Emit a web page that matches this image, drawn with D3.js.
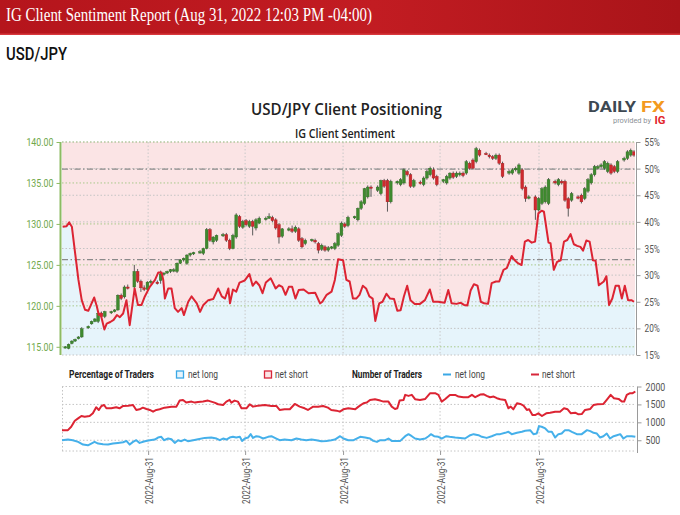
<!DOCTYPE html>
<html><head><meta charset="utf-8">
<script src="https://cdn.jsdelivr.net/npm/d3@7/dist/d3.min.js"></script>
<style>body{margin:0;background:#fff}svg{display:block}</style>
</head><body>
<svg id="c" width="680" height="515"></svg>
<script>
// ---------------- DATA ----------------
const headerTitle = "IG Client Sentiment Report (Aug 31, 2022 12:03 PM -04:00)";
const pairName = "USD/JPY";
const chartTitle = "USD/JPY Client Positioning";
const chartSubtitle = "IG Client Sentiment";
const priceTicks = [115, 120, 125, 130, 135, 140];
const pctTicks = [15, 20, 25, 30, 35, 40, 45, 50, 55];
const countTicks = [500, 1000, 1500, 2000];
const refPct = [50, 33];
const xTickSlots = [26.2, 55.7, 85.5, 115, 145.1];
const xTickLabels = ["2022-Aug-31", "2022-Aug-31", "2022-Aug-31", "2022-Aug-31", "2022-Aug-31"];

const candleSlot = [1,2,3,4,5,6,8,9,10,11,12,13,15,16,17,18,19,20,22,23,24,25,26,27,29,30,31,32,33,34,35,36,37,38,39,40,42,43,44,45,46,47,49,50,51,52,53,54,55,56,57,58,59,60,62,63,64,65,66,67,69,70,71,72,73,74,76,77,78,79,80,81,82,83,84,85,86,87,89,90,91,92,93,94,96,97,98,99,100,102,103,104,105,106,107,109,110,111,112,113,114,116,117,118,119,120,121,122,123,124,125,126,127,129,130,131,132,133,134,136,137,138,139,140,141,142,144,145,146,147,148,150,151,152,153,154,155,157,158,159,160,161,162,163,164,165,166,167,168,169,171,172,173,174];
const candleOpen = [114.9,114.8,115.4,115.7,116.0,116.2,117.3,117.8,118.1,118.1,119.1,118.7,119.2,119.3,119.5,121.3,121.1,122.3,122.3,124.2,123.0,122.2,122.0,122.9,122.9,123.1,123.9,124.0,124.2,124.3,124.2,125.2,125.6,125.2,126.2,126.4,126.5,126.4,127.0,129.3,127.8,128.0,128.6,128.7,128.0,127.0,128.4,130.9,129.6,130.4,129.7,130.3,129.5,130.1,130.6,130.7,130.8,130.5,129.9,128.5,129.3,129.4,129.1,129.4,128.2,127.6,128.0,128.0,127.6,126.9,127.2,126.8,127.1,127.0,127.4,128.6,130.0,129.8,130.8,130.5,131.9,132.5,133.3,134.5,134.1,133.7,135.3,135.3,132.7,135.0,134.8,135.0,136.4,136.0,134.6,135.1,134.8,135.6,136.0,136.6,135.8,135.2,135.0,135.6,136.2,135.8,136.0,136.2,136.2,137.4,137.8,137.6,139.0,138.6,138.4,138.2,138.0,138.4,137.4,136.2,136.2,136.6,136.2,136.6,134.5,133.2,133.3,131.7,132.5,132.7,132.5,135.2,134.8,135.2,135.2,133.1,132.9,133.3,133.5,133.1,134.0,135.0,136.0,136.8,137.0,136.8,136.4,137.2,137.0,136.4,137.8,138.0,138.4,138.8];
const candleHigh = [115.1,115.4,115.8,116.0,116.3,117.4,117.6,118.2,118.5,119.2,119.3,119.4,119.4,119.6,121.4,121.5,122.5,122.6,125.0,124.5,123.2,122.5,123.0,123.2,123.1,124.3,124.1,124.3,124.5,124.6,125.3,125.7,125.9,126.3,126.5,126.6,126.8,127.1,129.5,129.5,128.5,128.7,128.9,128.9,128.2,128.8,131.3,131.1,130.5,130.6,130.5,130.5,130.7,130.9,130.9,131.3,131.0,130.7,130.1,129.5,129.6,129.8,129.8,129.6,128.4,128.2,128.2,128.2,127.8,127.6,127.4,127.3,127.3,127.8,129.0,130.3,130.2,131.0,131.0,132.0,132.9,134.4,134.7,134.7,134.7,135.4,135.5,135.5,135.4,135.3,135.6,136.8,136.6,136.2,135.5,135.3,135.8,136.6,137.0,136.9,136.0,135.5,136.0,136.3,136.4,136.4,136.4,136.4,137.8,137.6,138.0,139.4,139.2,138.8,138.6,138.4,138.6,138.6,137.6,136.6,136.8,137.0,137.4,136.8,134.7,133.5,133.5,133.3,134.5,134.7,135.6,135.4,135.6,135.4,135.4,133.3,133.9,133.5,133.7,134.5,135.6,136.2,137.2,137.2,137.4,137.8,137.6,137.4,137.2,137.8,138.2,139.0,139.2,139.0];
const candleLow = [114.8,114.7,115.3,115.6,115.9,116.1,117.2,117.7,118.0,117.9,118.5,118.5,119.0,119.2,119.4,120.7,120.9,122.0,122.0,122.8,121.7,121.8,121.8,122.7,122.6,122.7,123.7,123.9,124.0,124.1,124.0,125.1,125.4,125.0,126.0,126.2,126.4,126.2,126.9,127.8,127.5,127.8,128.4,127.8,126.8,126.9,128.2,129.5,129.4,129.7,129.5,128.6,129.2,130.0,130.4,130.6,130.2,129.3,127.6,128.3,129.1,128.9,128.9,127.8,127.0,127.4,127.8,127.6,126.4,126.7,126.6,126.6,126.9,126.8,127.2,128.4,129.5,129.6,130.6,130.3,131.7,132.3,133.1,133.3,133.9,133.5,134.4,131.5,132.5,134.8,134.6,134.8,135.8,134.4,134.4,134.8,134.6,135.4,135.8,135.4,134.6,135.0,134.8,135.4,135.5,135.6,135.8,135.7,136.0,136.6,136.6,137.4,138.2,138.4,138.0,137.8,137.8,137.2,135.6,136.0,136.0,136.4,136.0,134.1,132.7,133.0,130.5,131.5,132.3,132.5,132.3,134.8,134.6,134.8,132.7,130.9,132.7,133.0,132.5,132.9,133.8,134.8,135.8,136.6,136.8,136.6,136.2,136.0,136.2,136.2,137.6,137.8,138.2,138.2];
const candleClose = [115.0,115.3,115.7,115.9,116.2,117.2,117.5,118.1,118.4,119.1,118.7,119.3,119.3,119.5,121.3,120.9,122.3,122.2,124.2,123.0,122.2,122.0,122.9,123.0,122.7,123.9,124.0,124.2,124.4,124.4,125.2,125.6,125.8,126.2,126.4,126.5,126.6,127.0,129.3,128.0,128.4,128.6,128.7,128.0,127.0,128.6,131.1,129.7,130.3,129.9,130.3,129.7,130.5,130.7,130.7,130.9,130.4,129.5,128.4,129.4,129.4,129.1,129.6,128.0,127.2,128.0,128.1,127.8,126.8,127.4,126.8,127.1,127.2,127.6,128.8,130.1,129.7,130.8,130.9,131.9,132.7,134.3,134.5,134.4,134.5,135.3,134.6,132.7,135.2,135.2,135.4,136.6,136.0,134.6,135.3,135.0,135.6,136.4,136.8,135.6,134.8,135.4,135.8,136.2,135.7,136.2,136.2,135.9,137.6,136.8,136.8,139.2,138.4,138.5,138.2,138.0,138.4,137.4,135.8,136.4,136.6,136.8,137.2,134.3,133.1,133.3,131.7,133.1,134.3,134.5,135.4,135.0,135.4,135.0,132.9,131.9,133.7,133.2,132.7,134.3,135.4,136.0,137.0,137.0,137.2,137.6,137.4,136.2,136.4,137.6,138.0,138.8,139.0,138.4];

const sentSlot = [0.2,1.4,2.2,3,4,5,6,7,8,9,9.8,10.6,11.2,11.7,12.9,13.6,14.7,15.7,16.7,17.6,18.6,19.6,20.6,22.1,23.1,24.2,25.2,26.7,28.3,29.3,30.3,30.8,31.3,32.3,33.3,34.3,35.3,36.4,37.1,38.4,39.4,41,42,43,44.5,46,47.5,48.6,49.6,50.6,51.1,52,53,54,55.6,57,58,59,60,61,62,63.5,65,66,67,68,69,70,71,72,73.5,75,77,78.5,79.2,80.5,82,83,84,85.5,86.5,87.5,88.5,89.5,90.5,91.5,92.5,93.5,94.5,95.3,96.5,97.5,98.7,99.8,101,102,103,104,105,106,107.3,108.9,110.4,111.9,112.9,114.4,116.4,117.5,118.5,120,121.3,122.3,123.3,124.3,125.3,126.4,127.4,128.4,129.6,130.7,132,133,134.3,135.3,136.8,137.7,138.8,139.8,140.8,141.8,142.9,143.9,144.9,145.9,146.6,148,148.6,149.6,150.6,151.7,152.7,153.7,154.7,155.7,156.7,157.7,158.5,159.5,160.5,161.5,162.3,163.3,164.8,165.6,166.4,167.4,168.4,169.4,170.3,171.2,172.2,173.2,174];
const sentPctLong = [39.1,39.2,39.9,39.1,34.1,29.1,25.3,23.5,23.3,24.7,25.8,24.1,22.5,22.8,19.8,20.9,21.2,21.6,22.5,22.1,22.8,25.3,20.6,27.5,24.4,24.4,26.0,27.8,29.1,30.5,30.5,29.1,25.6,27.5,27.5,23.8,23.1,23.8,22.5,25.0,26.0,24.7,23.1,24.4,25.3,25.5,27.5,26.0,25.6,27.5,24.7,27.3,26.9,28.6,29.0,30.2,28.0,28.8,28.1,26.6,28.6,29.4,27.5,28.1,27.8,26.3,27.8,27.8,25.6,27.2,27.3,26.6,26.7,24.7,25.0,26.3,26.9,29.1,33.0,32.8,29.1,28.8,25.6,25.6,26.3,28.0,27.5,26.0,25.6,21.4,24.7,25.0,26.5,25.6,25.5,23.3,23.4,26.0,28.0,25.3,24.6,24.6,25.3,27.3,25.0,25.0,24.8,27.2,24.7,24.6,24.8,24.4,24.3,27.1,28.3,28.0,25.0,24.7,24.6,28.5,28.8,28.8,31.0,31.3,33.6,32.8,32.2,31.9,36.3,36.6,36.1,36.3,41.6,42.1,41.9,36.1,36.0,31.0,32.5,32.8,36.3,36.6,37.7,35.8,35.5,35.3,34.6,36.5,36.3,32.8,32.7,28.1,28.8,29.8,24.4,25.6,28.0,28.0,25.6,28.0,25.3,25.3,25.0];

const shortSlot = [0,1.8,2.8,3.9,4.9,5.9,6.9,8.4,9.4,10.4,11.2,12,12.8,13.5,15,16.5,17.5,18.6,20.1,21.6,22.6,23.6,24.6,25.7,26.7,27.7,28.7,29.7,31.2,33.3,34.8,35.8,36.8,37.8,39.4,40.4,41.4,42.9,44.4,45.4,46.4,47.5,49,50,51,51.5,52.5,53.5,54.6,56.1,57.1,58.1,59.6,61.7,63.7,65.2,66.2,67.7,69.3,70.8,72.3,73.8,74.8,76.4,77.9,79.4,80.9,81.9,83.5,84.5,85.6,87.1,89.2,90.2,91.7,92.7,93.7,95.2,96.8,97.8,99.3,100.3,101.3,102,102.7,103.9,104.4,105.4,106.4,107.4,108.9,110.5,112,113.5,114.5,115.5,116.5,118,119.6,120.6,122.1,123.6,124.7,125.7,127.2,128.2,129.2,130.2,131.3,132.3,133.3,134.8,135.8,136.5,137.3,138.4,139.4,140.4,141.4,142.1,143.1,143.9,144.9,146,147.3,148.5,150,151.5,152.7,153.8,154.8,156.1,157.1,158.1,159.1,160.7,161.7,162.9,164.7,165.7,166.9,167.9,169.3,170.3,171,171.8,172.8,173.6,174.4];
const shortCount = [782,782,876,1045,1110,1176,1157,1176,1251,1420,1345,1457,1485,1392,1392,1420,1392,1457,1466,1485,1345,1364,1410,1373,1345,1298,1345,1364,1410,1438,1438,1607,1626,1551,1579,1551,1570,1579,1607,1579,1551,1504,1485,1579,1626,1551,1607,1579,1392,1392,1504,1438,1466,1485,1457,1457,1345,1364,1364,1513,1438,1392,1345,1438,1438,1457,1410,1345,1326,1298,1363,1392,1363,1438,1532,1551,1626,1645,1607,1579,1579,1438,1373,1392,1607,1626,1766,1738,1766,1645,1626,1654,1813,1813,1766,1579,1645,1766,1766,1720,1701,1701,1766,1701,1776,1785,1738,1701,1720,1673,1645,1626,1392,1438,1363,1532,1513,1467,1345,1363,1204,1204,1251,1176,1251,1270,1298,1298,1392,1363,1251,1270,1223,1232,1345,1373,1485,1504,1513,1626,1766,1673,1654,1579,1579,1766,1813,1813,1860];
const longSlot = [0,1.8,3.3,4.9,6.4,7.9,8.9,9.9,11,12.5,14,15.5,17,18.6,19.6,20.6,21.6,22.6,23.6,25.2,26.7,28.2,29.2,30.2,31,32.3,33.3,34.3,35.3,36.3,37.3,38.3,39.9,41.4,43.4,45.4,47,48,49,50,51,52,53,54.1,54.8,55.6,56.6,57.4,58.1,59.1,60.1,61.2,62.7,63.7,65.2,66.2,67.7,69.8,71.3,72.8,74.3,75.9,77.4,78.9,80.4,81.9,83,84.6,85.6,87.1,88.7,90.7,92.2,93.7,94.7,95.8,96.8,98.3,99.3,100.3,102.9,104.4,105.4,106.4,107.4,108.9,110.5,111.5,112.2,113.2,114.5,115.5,116.9,117.9,119.6,121.1,122.6,124.2,125.2,126.7,127.7,129.2,130.7,132.3,133.3,134.8,135.8,136.8,138.4,139.9,140.9,142.4,143.4,144.4,145.1,145.9,147,148,149,150,151,152,153,154.1,155.1,156.6,158.1,159.7,160.7,161.7,162.7,163.7,164.7,165.7,166.7,167.8,168.8,169.8,170.8,171.8,173.3,174.4];
const longCount = [501,520,501,454,379,360,407,454,407,388,379,407,426,445,482,379,454,501,426,473,501,520,576,595,501,548,529,426,501,473,520,473,501,529,566,576,548,501,548,520,576,595,576,595,482,548,576,670,566,613,595,548,595,613,548,501,520,501,548,520,501,520,501,473,482,501,520,613,548,501,501,595,576,548,482,454,501,501,548,482,482,613,670,613,548,520,548,613,670,613,595,548,613,595,576,566,548,641,670,641,595,566,613,670,670,707,735,670,707,735,763,782,670,688,895,876,829,735,735,576,670,688,782,782,735,670,670,782,754,707,688,576,613,688,548,613,641,670,548,613,613,595];

// ---------------- DRAW ----------------
const svg = d3.select('#c');
const SANS = 'Roboto, "Noto Sans", sans-serif';
function condense(sel, r){ sel.each(function(){ const L=this.getComputedTextLength(); this.setAttribute('textLength', (L*r).toFixed(1)); this.setAttribute('lengthAdjust','spacingAndGlyphs'); }); }
function fitTo(sel, w){ sel.attr('textLength', w).attr('lengthAdjust','spacingAndGlyphs'); }

// header banner
const defs = svg.append('defs');
const hg = defs.append('linearGradient').attr('id','hdr').attr('x1',0).attr('x2',1).attr('y1',0).attr('y2',0);
hg.append('stop').attr('offset','0%').attr('stop-color','#b5151c');
hg.append('stop').attr('offset','55%').attr('stop-color','#c21c22');
hg.append('stop').attr('offset','100%').attr('stop-color','#a91419');
svg.append('rect').attr('x',0).attr('y',0).attr('width',680).attr('height',35).attr('fill','url(#hdr)');
svg.append('rect').attr('x',0).attr('y',33.5).attr('width',680).attr('height',1.5).attr('fill','#d8383d');
svg.append('text').attr('x',6).attr('y',21).text(headerTitle)
  .attr('font-family','"Liberation Serif","DejaVu Serif",serif').attr('font-size',18).attr('fill','#fff')
  .call(fitTo, 366);
svg.append('text').attr('x',6).attr('y',59.5).text(pairName)
  .attr('font-family',SANS).attr('font-weight',500).attr('font-size',17.5).attr('fill','#111')
  .call(fitTo, 61);

// titles
svg.append('text').attr('x',346.5).attr('y',115).attr('text-anchor','middle').text(chartTitle)
  .attr('font-family','"Open Sans","Noto Sans",sans-serif').attr('font-weight',600).attr('font-size',16.5).attr('fill','#222')
  .call(fitTo, 191);
svg.append('text').attr('x',345).attr('y',138.3).attr('text-anchor','middle').text(chartSubtitle)
  .attr('font-family','"Open Sans","Noto Sans",sans-serif').attr('font-weight',600).attr('font-size',12.5).attr('fill','#222')
  .call(fitTo, 100);

// logo
const logo = svg.append('g');
logo.append('text').attr('x',588).attr('y',112).text('DAILY')
  .attr('font-family',SANS).attr('font-weight',700).attr('font-size',14).attr('fill','#3d4852').call(fitTo, 48);
logo.append('text').attr('x',641).attr('y',112).text('FX')
  .attr('font-family',SANS).attr('font-weight',700).attr('font-size',14).attr('fill','#f39a1e').call(fitTo, 24);
logo.append('text').attr('x',613).attr('y',123).text('provided by')
  .attr('font-family',SANS).attr('font-size',8).attr('fill','#8a8f96').call(fitTo, 38);
logo.append('text').attr('x',654.5).attr('y',124).text('IG')
  .attr('font-family',SANS).attr('font-weight',700).attr('font-size',11.5).attr('fill','#e2262b').call(fitTo, 11);

// scales
const L = 62, R = 635;
const x = d3.scaleLinear().domain([0, 174.3]).range([L, R]);
const py = d3.scaleLinear().domain([114, 140]).range([355, 142]);
const pc = d3.scaleLinear().domain([15, 55]).range([355, 142]);
const cy = d3.scaleLinear().domain([200, 2000]).range([451, 386.5]);

defs.append('clipPath').attr('id','plot').append('rect').attr('x',L).attr('y',142).attr('width',R-L).attr('height',213);

// main background
const main = svg.append('g');
main.append('rect').attr('x',L).attr('y',142).attr('width',R-L).attr('height',213).attr('fill','#fbe4e5');
const sent = sentSlot.map((s,i)=>({s, v:sentPctLong[i]}));
const sentExt = [{s:0, v:sentPctLong[0]}, ...sent, {s:174.3, v:sentPctLong[sentPctLong.length-1]}];
main.append('path').datum(sentExt).attr('clip-path','url(#plot)')
  .attr('d', d3.area().x(d=>x(d.s)).y0(pc(15)).y1(d=>pc(d.v))).attr('fill','#e6f4fb');

// grids
main.selectAll('line.gv').data(xTickSlots).join('line')
  .attr('x1',d=>x(d)).attr('x2',d=>x(d)).attr('y1',142).attr('y2',355)
  .attr('stroke','#c9c9c9').attr('stroke-dasharray','1.5,2');
main.selectAll('line.gp').data(pctTicks).join('line')
  .attr('x1',L).attr('x2',R).attr('y1',d=>pc(d)).attr('y2',d=>pc(d))
  .attr('stroke','#c4c4c4').attr('stroke-dasharray','1.5,2');
main.selectAll('line.gpr').data(priceTicks).join('line')
  .attr('x1',L).attr('x2',R).attr('y1',d=>py(d)).attr('y2',d=>py(d))
  .attr('stroke','#a9c98a').attr('stroke-dasharray','1.5,2');
main.selectAll('line.ref').data(refPct).join('line')
  .attr('x1',L).attr('x2',R).attr('y1',d=>pc(d)+0.5).attr('y2',d=>pc(d)+0.5)
  .attr('stroke','#8a8a8a').attr('stroke-width',1.2).attr('stroke-dasharray','6,2.5,1.5,2.5');

// candles
const candles = candleSlot.map((s,i)=>({s, o:candleOpen[i], h:candleHigh[i], l:candleLow[i], c:candleClose[i]}));
const cg = main.append('g').attr('clip-path','url(#plot)');
cg.selectAll('line.wick').data(candles).join('line')
  .attr('x1',d=>x(d.s)).attr('x2',d=>x(d.s)).attr('y1',d=>py(d.h)).attr('y2',d=>py(d.l))
  .attr('stroke','#5a5a5a').attr('stroke-width',1);
cg.selectAll('rect.body').data(candles).join('rect')
  .attr('x',d=>x(d.s)-1.4).attr('width',2.8)
  .attr('y',d=>py(Math.max(d.o,d.c)))
  .attr('height',d=>Math.max(1.3, Math.abs(py(d.o)-py(d.c))))
  .attr('fill',d=>d.c>=d.o?'#3f8a2f':'#cf2a2e')
  .attr('stroke',d=>d.c>=d.o?'#2e6b22':'#a11f22').attr('stroke-width',0.4);

// sentiment line
main.append('path').datum(sent).attr('clip-path','url(#plot)')
  .attr('d', d3.line().x(d=>x(d.s)).y(d=>pc(d.v))).attr('fill','none')
  .attr('stroke','#dc2433').attr('stroke-width',2).attr('stroke-linejoin','round');

// left axis (price)
const ax = svg.append('g').attr('transform',`translate(${L-1.5},0)`)
  .call(d3.axisLeft(py).tickValues(priceTicks).tickFormat(d3.format('.2f')).tickSize(4).tickPadding(3));
ax.select('.domain').attr('stroke','#8dbb63').attr('stroke-width',2).attr('d','M0,142V355');
ax.selectAll('.tick line').attr('stroke','#8dbb63');
ax.selectAll('text').attr('fill','#6fa84a').attr('font-family',SANS).attr('font-size',11).call(condense, 0.8);

// right axis (percent)
const ar = svg.append('g').attr('transform',`translate(${R+1.5},0)`)
  .call(d3.axisRight(pc).tickValues(pctTicks).tickFormat(d=>d+'%').tickSize(4).tickPadding(4));
ar.select('.domain').attr('stroke','#9a9a9a').attr('d','M0,142V355');
ar.selectAll('.tick line').attr('stroke','#9a9a9a');
ar.selectAll('text').attr('fill','#555').attr('font-family',SANS).attr('font-size',11).call(condense, 0.75);

// legend
const lg = svg.append('g').attr('font-family',SANS).attr('font-size',10);
lg.append('text').attr('x',69).attr('y',378).text('Percentage of Traders').attr('font-weight',700).attr('fill','#222').call(fitTo, 85);
lg.append('rect').attr('x',176.5).attr('y',371).attr('width',7).attr('height',7).attr('fill','#e6f4fb').attr('stroke','#3aa8e6').attr('stroke-width',1.3);
lg.append('text').attr('x',188).attr('y',378).text('net long').attr('fill','#444').call(fitTo, 30);
lg.append('rect').attr('x',264.5).attr('y',371).attr('width',7).attr('height',7).attr('fill','#fbe4e5').attr('stroke','#d7263a').attr('stroke-width',1.3);
lg.append('text').attr('x',275).attr('y',378).text('net short').attr('fill','#444').call(fitTo, 33);
lg.append('text').attr('x',352).attr('y',378).text('Number of Traders').attr('font-weight',700).attr('fill','#222').call(fitTo, 70);
lg.append('line').attr('x1',443).attr('x2',451).attr('y1',374.5).attr('y2',374.5).attr('stroke','#3aa8e6').attr('stroke-width',2);
lg.append('text').attr('x',455).attr('y',378).text('net long').attr('fill','#444').call(fitTo, 30);
lg.append('line').attr('x1',531).attr('x2',539).attr('y1',374.5).attr('y2',374.5).attr('stroke','#d7263a').attr('stroke-width',2);
lg.append('text').attr('x',542).attr('y',378).text('net short').attr('fill','#444').call(fitTo, 33);

// bottom panel
const bp = svg.append('g');
bp.selectAll('line.bg').data(countTicks).join('line')
  .attr('x1',L).attr('x2',R).attr('y1',d=>cy(d)).attr('y2',d=>cy(d))
  .attr('stroke','#c4c4c4').attr('stroke-dasharray','1.5,2');
bp.append('line').attr('x1',L).attr('x2',R).attr('y1',cy(200)).attr('y2',cy(200)).attr('stroke','#c4c4c4').attr('stroke-dasharray','1.5,2');
bp.append('line').attr('x1',L+0.5).attr('x2',L+0.5).attr('y1',cy(2000)).attr('y2',cy(200)).attr('stroke','#c4c4c4').attr('stroke-dasharray','1.5,2');
bp.selectAll('line.bv').data(xTickSlots).join('line')
  .attr('x1',d=>x(d)).attr('x2',d=>x(d)).attr('y1',cy(2000)).attr('y2',cy(200))
  .attr('stroke','#c9c9c9').attr('stroke-dasharray','1.5,2');
const shortData = shortSlot.map((s,i)=>({s, v:shortCount[i]}));
const longData = longSlot.map((s,i)=>({s, v:longCount[i]}));
const cline = d3.line().x(d=>x(d.s)).y(d=>cy(d.v));
bp.append('path').datum(shortData).attr('d',cline).attr('fill','none').attr('stroke','#dc2433').attr('stroke-width',2).attr('stroke-linejoin','round');
bp.append('path').datum(longData).attr('d',cline).attr('fill','none').attr('stroke','#45b0ea').attr('stroke-width',2).attr('stroke-linejoin','round');

const ac = svg.append('g').attr('transform',`translate(${R+2.5},0)`)
  .call(d3.axisRight(cy).tickValues(countTicks).tickFormat(d3.format('d')).tickSize(4).tickPadding(4));
ac.select('.domain').attr('stroke','#9a9a9a').attr('d','M0,386.5V453');
ac.selectAll('.tick line').attr('stroke','#9a9a9a');
ac.selectAll('text').attr('fill','#555').attr('font-family',SANS).attr('font-size',11).call(condense, 0.8);

// x axis
const axb = svg.append('g').attr('transform','translate(0,451)')
  .call(d3.axisBottom(x).tickValues(xTickSlots).tickFormat((d,i)=>xTickLabels[i]).tickSize(4));
axb.select('.domain').remove();
axb.selectAll('.tick line').attr('stroke','#9a9a9a');
axb.selectAll('text').attr('transform','rotate(-90)').attr('x',-6).attr('y',0).attr('dy','0.38em')
  .style('text-anchor','end').attr('fill','#555').attr('font-family',SANS).attr('font-size',10.5)
  .call(fitTo, 47);
</script>
</body></html>
